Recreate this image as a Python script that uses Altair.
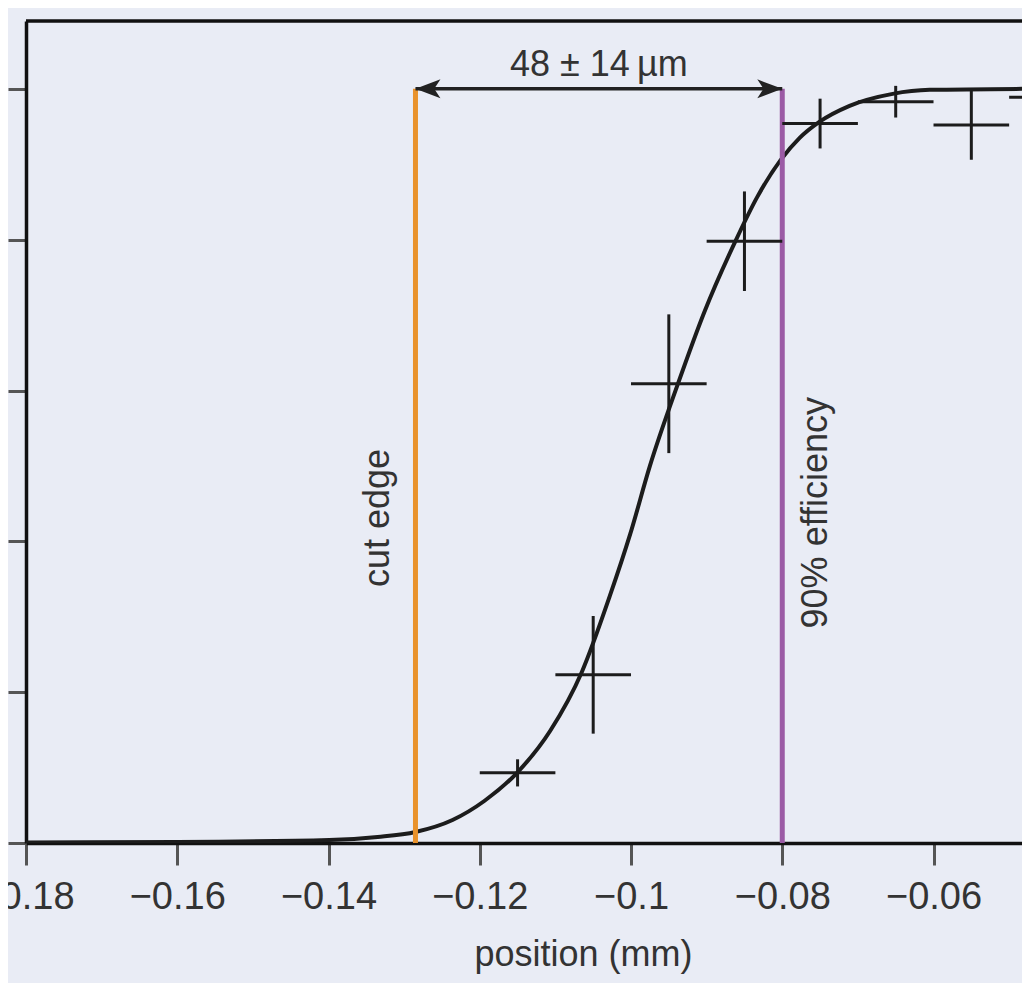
import altair as alt
import pandas as pd

# ---- axis ranges / ticks ----
X_MIN, X_MAX = -0.18, -0.0483
Y_MIN, Y_MAX = 0.0, 1.09
x_ticks = [-0.18, -0.16, -0.14, -0.12, -0.10, -0.08, -0.06]
y_ticks = [0.0, 0.2, 0.4, 0.6, 0.8, 1.0]

# ---- fitted curve ----
curve_x = [-0.18, -0.16, -0.1399, -0.1335, -0.1285, -0.1236, -0.1194, -0.1151, -0.1107,
           -0.1065, -0.1028, -0.1001, -0.0975, -0.0938, -0.0903, -0.0863, -0.0833,
           -0.0802, -0.0777, -0.0751, -0.0711, -0.0654, -0.0605, -0.0483]
curve_y = [0.0007, 0.0013, 0.004, 0.008, 0.0146, 0.0305, 0.0557, 0.0928, 0.1485,
           0.2268, 0.3276, 0.4098, 0.5, 0.6088, 0.7042, 0.7958, 0.8568,
           0.9058, 0.935, 0.9562, 0.9775, 0.9934, 0.9987, 1.0]

# ---- measured points with errors ----
pt_x = [-0.115, -0.105, -0.095, -0.085, -0.075, -0.065, -0.055, -0.045]
pt_y = [0.093, 0.223, 0.609, 0.798, 0.954, 0.983, 0.952, 0.989]
pt_xerr = [0.005, 0.005, 0.005, 0.005, 0.005, 0.005, 0.005, 0.005]
pt_yerr = [0.018, 0.078, 0.092, 0.066, 0.033, 0.021, 0.046, 0.02]

# ---- marker lines ----
edge_names = ["cut edge", "90% efficiency"]
edge_x = [-0.1285, -0.0800]
edge_y0 = [0.0, 0.0]
edge_y1 = [1.0, 1.0]
edge_colors = ["#e9922b", "#9b5ba5"]
edge_label_y = [0.431, 0.438]

width_label = "48 ± 14\u2009µm"
arrow_y = 1.0

FONT = "Liberation Sans"
INK = "#1c1c1c"
TXT = "#333333"

curve_df = pd.DataFrame({"x": curve_x, "y": curve_y})
pts = pd.DataFrame({"x": pt_x, "y": pt_y, "xerr": pt_xerr, "yerr": pt_yerr})
pts["x0"] = pts["x"] - pts["xerr"]
pts["x1"] = pts["x"] + pts["xerr"]
pts["y0"] = pts["y"] - pts["yerr"]
pts["y1"] = pts["y"] + pts["yerr"]
edges = pd.DataFrame({"name": edge_names, "x": edge_x, "y0": edge_y0, "y1": edge_y1,
                      "color": edge_colors, "ly": edge_label_y})
arrow = pd.DataFrame({"x0": [edge_x[0]], "x1": [edge_x[1]], "y": [arrow_y],
                      "xm": [(edge_x[0] + edge_x[1]) / 2], "label": [width_label]})
top_df = pd.DataFrame({"y": [Y_MAX]})

xs = alt.Scale(domain=[X_MIN, X_MAX], nice=False, zero=False)
ys = alt.Scale(domain=[Y_MIN, Y_MAX], nice=False, zero=False)

x_axis = alt.Axis(values=x_ticks, format="~g", title="position (mm)")
y_axis = alt.Axis(values=y_ticks, labels=False, title="")


def X(field):
    return alt.X(field, type="quantitative", scale=xs, axis=x_axis)


def Y(field):
    return alt.Y(field, type="quantitative", scale=ys, axis=y_axis)


curve = alt.Chart(curve_df).mark_line(color=INK, strokeWidth=4, interpolate="monotone",
                                      clip=True).encode(x=X("x"), y=Y("y"))

top_border = alt.Chart(top_df).mark_rule(color="#111111", strokeWidth=3.5).encode(
    y=Y("y")
)

edge_lines = alt.Chart(edges).mark_rule(strokeWidth=5).encode(
    x=X("x"), y=Y("y0"), y2="y1:Q",
    color=alt.Color("color:N", scale=None),
)

arrow_line = alt.Chart(arrow).mark_rule(color="#222222", strokeWidth=3.5).encode(
    x=X("x0"), x2="x1:Q", y=Y("y"),
)
head_left = alt.Chart(arrow).mark_point(shape="M0,0 L2,-0.76 L1.5,0 L2,0.76 Z",
                                        filled=True, size=625, color="#222222",
                                        opacity=1).encode(x=X("x0"), y=Y("y"))
head_right = alt.Chart(arrow).mark_point(shape="M0,0 L-2,-0.76 L-1.5,0 L-2,0.76 Z",
                                         filled=True, size=625, color="#222222",
                                         opacity=1).encode(x=X("x1"), y=Y("y"))
arrow_text = alt.Chart(arrow).mark_text(font=FONT, fontSize=36, color=TXT, dy=-13,
                                        align="center", baseline="alphabetic").encode(
    x=X("xm"), y=Y("y"), text="label:N",
)

hbars = alt.Chart(pts).mark_rule(color=INK, strokeWidth=3, clip=True).encode(
    x=X("x0"), x2="x1:Q", y=Y("y"),
)
vbars = alt.Chart(pts).mark_rule(color=INK, strokeWidth=3, clip=True).encode(
    x=X("x"), y=Y("y0"), y2="y1:Q",
)

lbl_cut = alt.Chart(edges.iloc[[0]]).mark_text(font=FONT, fontSize=36, color=TXT,
                                               angle=270, dy=-26, align="center",
                                               baseline="alphabetic").encode(
    x=X("x"), y=Y("ly"), text="name:N",
)
lbl_eff = alt.Chart(edges.iloc[[1]]).mark_text(font=FONT, fontSize=36, color=TXT,
                                               angle=270, dy=45, align="center",
                                               baseline="alphabetic").encode(
    x=X("x"), y=Y("ly"), text="name:N",
)

chart = alt.layer(
    curve, edge_lines, top_border, arrow_line, head_left, head_right,
    hbars, vbars, arrow_text, lbl_cut, lbl_eff,
).properties(
    width=996, height=822,
    padding={"left": 18, "top": 13, "right": 0, "bottom": 140},
    autosize=alt.AutoSizeParams(type="none"),
    background="#e9ecf5",
).configure_view(
    stroke=None
).configure_axis(
    grid=False, domainColor="#111111", domainWidth=3.5, tickColor="#555555",
    tickWidth=3,
).configure_axisX(
    tickSize=22, labelFontSize=38, labelColor=TXT, labelFont=FONT, labelPadding=13,
    labelFlush=False, labelOverlap=False, titleFont=FONT, titleFontSize=36,
    titleFontWeight="normal", titleColor=TXT, titleX=557, titleY=122,
    titleAlign="center", titleBaseline="alphabetic",
).configure_axisY(
    tickSize=18,
)

chart.save("out.html", embed_options={"renderer": "svg", "actions": False})
